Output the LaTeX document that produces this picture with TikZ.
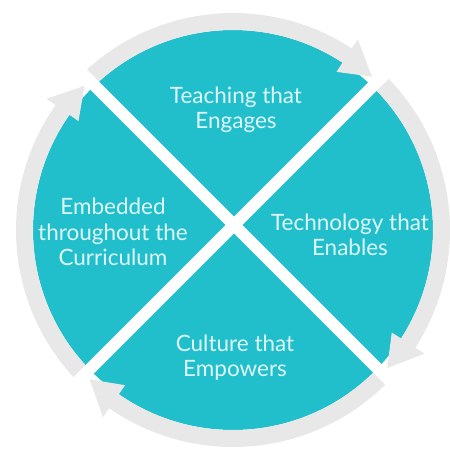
\documentclass[tikz,border=0pt]{standalone}
\usepackage{fontspec}
\setmainfont{Lato}
\definecolor{tealc}{RGB}{33,190,204}
\definecolor{ringc}{RGB}{232,232,232}
\definecolor{txtc}{RGB}{222,247,249}
\newcommand\ringarrow[2]{%
  \fill[ringc] (#1:217pt) arc[start angle=#1, end angle=#2+9, radius=217pt]
    -- (#2+9:228pt) -- (#2:207pt) -- (#2+9:189pt) -- (#2+9:200pt)
    arc[start angle=#2+9, end angle=#1, radius=200pt] -- cycle;}
\begin{document}
\begin{tikzpicture}[x=1pt,y=1pt,
  lbl/.style={align=center, text=txtc, font=\fontsize{22.5}{25.5}\selectfont, inner sep=0pt},
  gapline/.style={white, line width=12pt}]
\useasboundingbox (0,0) rectangle (450,-451);
\coordinate (C) at (233,-230);
\coordinate (X) at (234,-225);
\fill[tealc] (C) circle[radius=200pt];
\begin{scope}[shift={(C)}]
  \ringarrow{133.84}{47.8}
  \ringarrow{45.8}{-41.84}
  \ringarrow{-43.84}{-133.8}
  \ringarrow{224.2}{135.84}
\end{scope}
\begin{scope}[shift={(X)}]
  \coordinate (NW) at (135:228pt);
  \coordinate (SE) at (-45:228pt);
  \coordinate (NE) at (45:228pt);
  \coordinate (SW) at (225:228pt);
\end{scope}
\draw[gapline] (NW) -- (SE);
\draw[gapline] (NE) -- (SW);
\node[lbl] (teach) at (236,-110) {Teaching that\\Engages};
\node[lbl] (tech) at (350,-235) {Technology that\\Enables};
\node[lbl] (cult) at (235,-357.5) {Culture that\\Empowers};
\node[lbl] (emb) at (113,-232) {Embedded\\throughout the\\Curriculum};
\end{tikzpicture}
\end{document}
